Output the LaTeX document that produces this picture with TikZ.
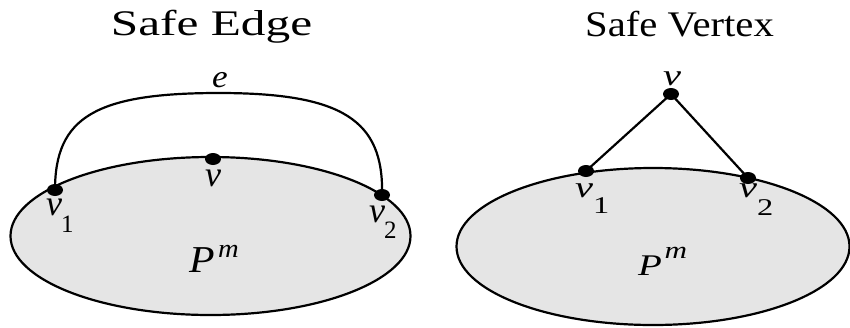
\documentclass[tikz,border=0pt]{standalone}
\usepackage{fontspec}
\setmainfont{Liberation Serif}
\usepackage{graphicx}
\usetikzlibrary{shapes.geometric}
\newcommand{\sxt}[3]{\scalebox{#1}[1]{\fontsize{#2}{#2}\selectfont #3}}
\begin{document}
\begin{tikzpicture}[x=1pt,y=-1pt,
  region/.style={ellipse, draw=black, line width=2.2pt, fill=black!10, inner sep=0pt},
  dot/.style={ellipse, fill=black, inner sep=0pt, minimum width=16pt, minimum height=12pt},
  edge/.style={line width=2.2pt, draw=black},
  lbl/.style={inner sep=0pt, anchor=base west},
  ttl/.style={inner sep=0pt, anchor=base}]
\useasboundingbox (0,0) rectangle (850,327);
% regions
\node[region, minimum width=400pt, minimum height=158pt] (PL) at (210.5,236) {};
\node[region, minimum width=393pt, minimum height=157pt] (PR) at (653,246.5) {};
% titles
\node[ttl] (tL) at (211.5,35) {\sxt{1.37}{36}{Safe Edge}};
\node[ttl] (tR) at (679.5,36) {\sxt{1.13}{36}{Safe Vertex}};
% left dots
\node[dot] (lv1) at (55,190) {};
\node[dot] (lv) at (213,159) {};
\node[dot] (lv2) at (382,195) {};
\coordinate (etop) at (219,93);
\draw[edge] (lv1.center) .. controls (55,117) and (96,93) .. (etop)
  .. controls (342,93) and (384,120) .. (lv2.center);
% right dots
\node[dot] (rv) at (671,94) {};
\node[dot] (rv1) at (586,171) {};
\node[dot] (rv2) at (748,178) {};
\draw[edge] (rv1.center) -- (rv.center) -- (rv2.center);
% left labels
\node[lbl] (le) at (212,87) {\sxt{1.1}{32}{\itshape e}};
\node[lbl] (lvl) at (205,186) {\sxt{1}{36}{\itshape v}};
\node[lbl] (lv1l) at (46,215) {\sxt{1}{36}{\itshape v\kern-1pt\raisebox{-17pt}{\fontsize{25}{25}\selectfont\upshape 1}}};
\node[lbl] (lv2l) at (369,222) {\sxt{1}{36}{\itshape v\kern-1pt\raisebox{-16pt}{\fontsize{25}{25}\selectfont\upshape 2}}};
\node[lbl] (lP) at (189,272) {\sxt{1.1}{38}{\itshape P\kern3pt\raisebox{15pt}{\fontsize{26}{26}\selectfont m}}};
% right labels
\node[lbl] (rvl) at (663,85) {\sxt{1.35}{30}{\itshape v}};
\node[lbl] (rv1l) at (575,197) {\sxt{1.35}{30}{\itshape v\kern0pt\raisebox{-16pt}{\fontsize{24}{24}\selectfont\upshape 1}}};
\node[lbl] (rv2l) at (739,197) {\sxt{1.35}{30}{\itshape v\kern0pt\raisebox{-18pt}{\fontsize{24}{24}\selectfont\upshape 2}}};
\node[lbl] (rP) at (638,275) {\sxt{1.3}{30}{\itshape P\kern2pt\raisebox{17pt}{\fontsize{24}{24}\selectfont m}}};
\end{tikzpicture}
\end{document}
